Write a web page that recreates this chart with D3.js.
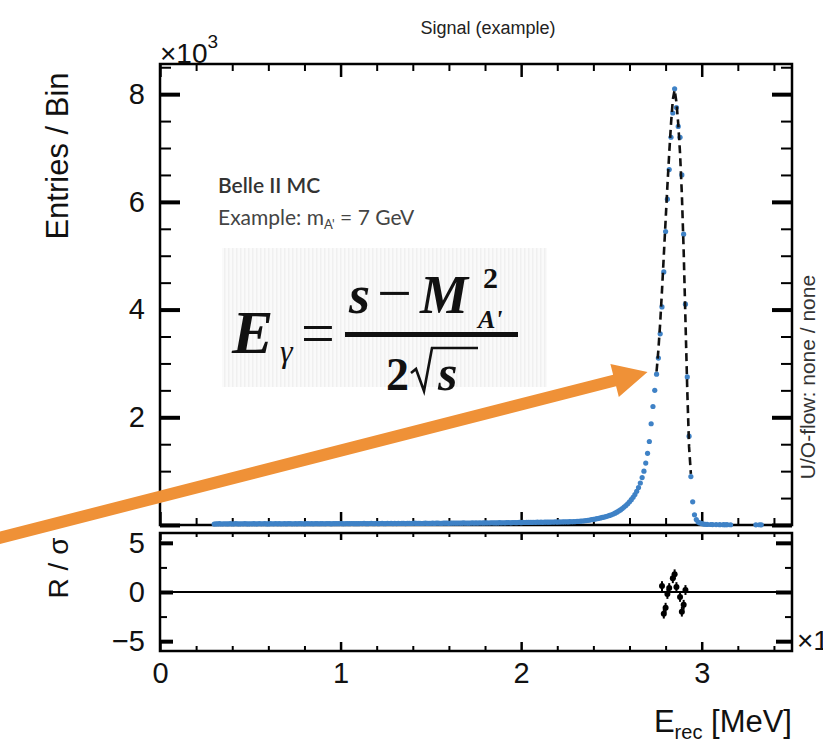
<!DOCTYPE html>
<html><head><meta charset="utf-8">
<script src="https://cdn.jsdelivr.net/npm/d3@7"></script>
<style>
html,body{margin:0;padding:0;background:#fff;}
svg{display:block;font-family:"Liberation Sans",Arial,sans-serif;}
</style></head><body>
<svg id="chart" width="823" height="743"></svg>
<script>
// Histogram binning (MeV)
const binLow = 0.30, binWidth = 0.01;

// Entries per bin, 0.30 .. 2.29 MeV (flat continuum)
const flatEntries = [
  18,22,20,24,19,21,23,20,22,25,19,21,24,22,20,23,21,25,22,20,
  23,21,24,20,22,26,21,23,25,22,20,24,23,21,26,22,24,21,23,25,
  22,24,26,21,23,25,22,27,24,23,21,25,26,23,24,22,27,25,23,24,
  26,23,25,28,24,22,26,25,27,24,28,25,23,27,26,24,28,26,25,27,
  25,28,26,29,27,24,28,30,26,27,29,25,28,30,27,26,29,28,31,27,
  29,27,30,28,31,29,27,32,30,28,31,33,29,30,32,28,31,33,30,32,
  31,34,30,33,35,32,31,34,36,33,32,35,34,37,33,35,36,34,38,35,
  36,34,37,39,35,38,36,40,37,39,38,41,37,40,42,39,41,38,43,40,
  42,40,43,45,41,44,46,43,45,47,44,48,46,49,47,50,48,51,49,52,
  51,53,50,54,52,55,53,56,54,57,55,58,56,59,57,60,58,61,60,62
];
// Entries per bin, 2.30 .. 3.00 MeV (rising edge and peak)
const peakEntries = [
  64,66,68,71,74,78,82,87,92,98,
  104,110,117,124,132,140,148,157,167,178,
  190,204,220,238,258,280,305,333,362,395,
  430,470,515,565,625,695,780,880,1000,1150,
  1330,1550,1880,2200,2500,2800,3100,3550,4050,4700,
  5450,6050,6600,7200,7650,8100,7750,7400,7200,6500,
  5400,4100,2750,1650,900,430,190,100,55,38,
  27
];
// Entries per bin, 3.01 .. 3.40 MeV (null = empty bin)
const tailEntries = [
  18,14,11,null,9,8,null,7,null,6,
  null,6,5,6,null,5,null,null,null,null,
  null,null,null,null,null,null,null,null,null,4,
  null,5,4,null,null,null,null,null,null,null
];

// Fitted shape around the peak
const modelEnergy  = [2.75,2.76,2.77,2.78,2.79,2.80,2.81,2.82,2.83,2.84,2.85,2.86,2.87,2.88,2.89,2.90,2.91,2.92,2.93,2.94];
const modelEntries = [2850,3250,3750,4350,5000,5650,6300,6900,7450,7900,8080,7850,7450,6900,6150,5100,3800,2500,1450,950];

// Pulls (residual / sigma)
const ratioEnergy = [2.78,2.79,2.80,2.81,2.82,2.84,2.85,2.86,2.88,2.89,2.90,2.91];
const ratioPull   = [0.6,-2.2,-1.6,-0.2,0.4,1.4,1.8,0.5,-0.5,-2.0,-1.3,0.2];

// Tick values
const xMajorTicks = [0,1,2,3];
const yMajorTicks = [0,2000,4000,6000,8000];
const ratioMajorTicks = [-5,0,5];

const svg = d3.select("#chart");
const L = 160, R = 792, T = 64, MB = 525, RT = 533, RB = 651;

const x  = d3.scaleLinear([0, 3.5], [L, R]);
const y  = d3.scaleLinear([0, 8560], [MB, T]);
const yr = d3.scaleLinear([-6, 6], [RB, RT]);

const allEntries = flatEntries.concat(peakEntries, tailEntries);
const bins = allEntries.map((v, i) => ({ e: +(binLow + i * binWidth).toFixed(2), v }))
  .filter(d => d.v !== null);

const xMinor = d3.range(0, 18).map(i => +(i * 0.2).toFixed(1)).filter(v => v % 1 !== 0);
const yMinor = d3.range(0, 8501, 500).filter(v => v % 2000 !== 0);
const rMinor = [-2.5, 2.5];

// ---- formula panel background
const defs = svg.append("defs");
const pat = defs.append("pattern").attr("id", "stripes").attr("width", 4).attr("height", 4)
  .attr("patternUnits", "userSpaceOnUse");
pat.append("rect").attr("width", 4).attr("height", 4).attr("fill", "#fafafa");
pat.append("rect").attr("width", 1.5).attr("height", 4).attr("fill", "#f0f0f0");
svg.append("rect").attr("x", 222).attr("y", 248).attr("width", 325).attr("height", 139)
  .attr("fill", "url(#stripes)");

// ---- tick helper
function tickSet(axisFn, scale, transform, values, size, sw, fmt, pad, fontSize) {
  const ax = axisFn(scale).tickValues(values).tickSizeInner(-size).tickSizeOuter(0)
    .tickPadding(pad || 3).tickFormat(fmt || (() => ""));
  const g = svg.append("g").attr("transform", transform).call(ax);
  g.select(".domain").remove();
  g.selectAll(".tick line").attr("stroke", "#000").attr("stroke-width", sw);
  g.selectAll(".tick text").attr("fill", "#111").attr("font-size", fontSize || 29)
    .attr("font-family", "'Liberation Sans', Arial, sans-serif");
  return g;
}

// Main panel ticks (the zero label is left to the ratio panel)
tickSet(d3.axisBottom, x, `translate(0,${MB})`, xMajorTicks, 13, 2.5);
tickSet(d3.axisBottom, x, `translate(0,${MB})`, xMinor, 7, 2);
tickSet(d3.axisTop, x, `translate(0,${T})`, xMajorTicks, 13, 2.5);
tickSet(d3.axisTop, x, `translate(0,${T})`, xMinor, 7, 2);
tickSet(d3.axisLeft, y, `translate(${L},0)`, yMajorTicks, 20, 4, d => d === 0 ? "" : d / 1000, 15);
tickSet(d3.axisLeft, y, `translate(${L},0)`, yMinor, 11, 2);
tickSet(d3.axisRight, y, `translate(${R},0)`, yMajorTicks, 20, 4);
tickSet(d3.axisRight, y, `translate(${R},0)`, yMinor, 11, 2);

// Ratio panel ticks
tickSet(d3.axisTop, x, `translate(0,${RT})`, xMajorTicks, 7, 2.5);
tickSet(d3.axisTop, x, `translate(0,${RT})`, xMinor, 4, 2);
tickSet(d3.axisBottom, x, `translate(0,${RB})`, xMajorTicks, 9, 2.5, d3.format("d"), 11);
tickSet(d3.axisBottom, x, `translate(0,${RB})`, xMinor, 5, 2);
tickSet(d3.axisLeft, yr, `translate(${L},0)`, ratioMajorTicks, 13, 4, d3.format("d"), 15);
tickSet(d3.axisLeft, yr, `translate(${L},0)`, rMinor, 7, 2);
tickSet(d3.axisRight, yr, `translate(${R},0)`, ratioMajorTicks, 16, 4);
tickSet(d3.axisRight, yr, `translate(${R},0)`, rMinor, 7, 2);

// Frames
svg.append("rect").attr("x", L).attr("y", T).attr("width", R - L).attr("height", MB - T)
  .attr("fill", "none").attr("stroke", "#000").attr("stroke-width", 2.5);
svg.append("rect").attr("x", L).attr("y", RT).attr("width", R - L).attr("height", RB - RT)
  .attr("fill", "none").attr("stroke", "#000").attr("stroke-width", 2.5);

// Histogram markers
svg.append("g").selectAll("circle").data(bins).join("circle")
  .attr("cx", d => x(d.e)).attr("cy", d => y(d.v)).attr("r", 2.6)
  .attr("fill", "#3f82c6");

// Fit curve
const model = modelEnergy.map((e, i) => [e, modelEntries[i]]);
svg.append("path").datum(model)
  .attr("d", d3.line().x(d => x(d[0])).y(d => y(d[1])))
  .attr("fill", "none").attr("stroke", "#111").attr("stroke-width", 2.6)
  .attr("stroke-dasharray", "8,5");

// Ratio zero line and pulls
svg.append("line").attr("x1", L).attr("x2", R).attr("y1", yr(0)).attr("y2", yr(0))
  .attr("stroke", "#000").attr("stroke-width", 2.2);
const pulls = ratioEnergy.map((e, i) => ({ e, p: ratioPull[i] }));
const pg = svg.append("g");
pg.selectAll("line").data(pulls).join("line")
  .attr("x1", d => x(d.e)).attr("x2", d => x(d.e))
  .attr("y1", d => yr(d.p - 0.5)).attr("y2", d => yr(d.p + 0.5))
  .attr("stroke", "#000").attr("stroke-width", 2);
pg.selectAll("circle").data(pulls).join("circle")
  .attr("cx", d => x(d.e)).attr("cy", d => yr(d.p)).attr("r", 3)
  .attr("fill", "#000");

// Titles and axis labels
svg.append("text").attr("x", 488).attr("y", 34).attr("text-anchor", "middle")
  .attr("font-size", 18).attr("fill", "#222").text("Signal (example)");

const mult = svg.append("text").attr("x", 160).attr("y", 63).attr("font-size", 28).attr("fill", "#111");
mult.append("tspan").text("×10");
mult.append("tspan").attr("font-size", 19).attr("dy", -15).text("3");

const mult2 = svg.append("text").attr("x", 797).attr("y", 650).attr("font-size", 28).attr("fill", "#111");
mult2.append("tspan").text("×10");
mult2.append("tspan").attr("font-size", 19).attr("dy", -15).text("3");

svg.append("text").attr("transform", "translate(68,156) rotate(-90)")
  .attr("text-anchor", "middle").attr("font-size", 31).attr("fill", "#111")
  .text("Entries / Bin");
svg.append("text").attr("transform", "translate(68,568) rotate(-90)")
  .attr("text-anchor", "middle").attr("font-size", 28).attr("fill", "#111")
  .text("R / σ");

const xl = svg.append("text").attr("x", 792).attr("y", 732).attr("text-anchor", "end")
  .attr("font-size", 31).attr("fill", "#111");
xl.append("tspan").text("E");
xl.append("tspan").attr("font-size", 20).attr("dy", 7).text("rec");
xl.append("tspan").attr("dy", -7).text(" [MeV]");

svg.append("text").attr("transform", "translate(815,377) rotate(-90)")
  .attr("text-anchor", "middle").attr("font-size", 21).attr("fill", "#333")
  .text("U/O-flow: none / none");

// Info text
svg.append("text").attr("x", 218).attr("y", 193).attr("font-family", "Lato, 'Open Sans', sans-serif")
  .attr("font-size", 21).attr("font-weight", 600).attr("fill", "#333").text("Belle II MC");
const ex = svg.append("text").attr("x", 218).attr("y", 225).attr("font-family", "Lato, 'Open Sans', sans-serif")
  .attr("font-size", 21).attr("fill", "#444");
ex.append("tspan").text("Example: m");
ex.append("tspan").attr("font-size", 13).attr("dy", 4).text("A'");
ex.append("tspan").attr("dy", -4).text(" = 7 GeV");

// Formula  E_γ = (s − M_A'^2) / (2√s)
const ff = "'Liberation Serif', 'DejaVu Serif', serif";
const fm = svg.append("g").attr("font-family", ff).attr("fill", "#111");
fm.append("text").attr("x", 232).attr("y", 353).attr("font-size", 62).attr("font-style", "italic")
  .attr("font-weight", "bold").text("E");
fm.append("text").attr("x", 280).attr("y", 362).attr("font-size", 32).attr("font-style", "italic")
  .text("γ");
fm.append("text").attr("x", 301).attr("y", 353).attr("font-size", 60).text("=");
fm.append("rect").attr("x", 345).attr("y", 332).attr("width", 173).attr("height", 5);
fm.append("text").attr("x", 349).attr("y", 313).attr("font-size", 54).attr("font-style", "italic")
  .attr("font-weight", "bold").text("s");
fm.append("text").attr("x", 377).attr("y", 314).attr("font-size", 62).text("−");
fm.append("text").attr("x", 420).attr("y", 313).attr("font-size", 54).attr("font-style", "italic")
  .attr("font-weight", "bold").text("M");
fm.append("text").attr("x", 483).attr("y", 288).attr("font-size", 30).attr("font-weight", "bold").text("2");
fm.append("text").attr("x", 478).attr("y", 328).attr("font-size", 26).attr("font-style", "italic")
  .attr("font-weight", "bold").text("A'");
fm.append("text").attr("x", 386).attr("y", 390).attr("font-size", 46).attr("font-weight", "bold").text("2");
fm.append("path").attr("d", "M411,373 L416,369 L424,391 L432,348 L478,348")
  .attr("fill", "none").attr("stroke", "#111").attr("stroke-width", 2.6);
fm.append("text").attr("x", 438).attr("y", 390).attr("font-size", 50).attr("font-style", "italic")
  .attr("font-weight", "bold").text("s");

// Arrow pointing at the rising edge
const tip = [x(2.70), y(2840)], start = [-5, 539];
const dx = tip[0] - start[0], dy = tip[1] - start[1], len = Math.hypot(dx, dy);
const u = [dx / len, dy / len], n = [-u[1], u[0]];
const base = [tip[0] - 34 * u[0], tip[1] - 34 * u[1]];
const pt = (p, k) => [p[0] + k * n[0], p[1] + k * n[1]];
const arrowPts = [pt(start, -6), pt(base, -6), pt(base, -17), tip, pt(base, 17), pt(base, 6), pt(start, 6)];
svg.append("path").attr("d", "M" + arrowPts.map(p => p.join(",")).join("L") + "Z")
  .attr("fill", "#ef9137");
</script>
</body></html>
